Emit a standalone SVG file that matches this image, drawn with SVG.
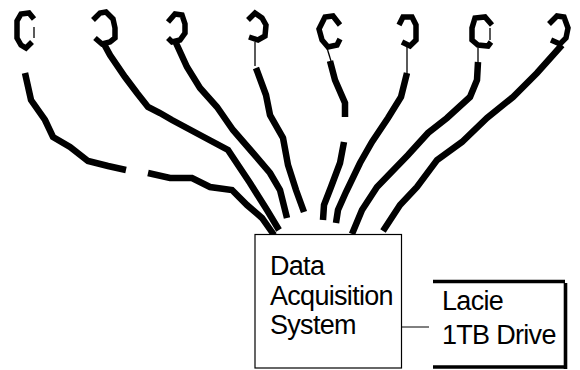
<svg xmlns="http://www.w3.org/2000/svg" width="580" height="370" viewBox="0 0 580 370">
<style>
.sensor{fill:none;stroke:#000;stroke-width:5.5;stroke-linejoin:miter;stroke-linecap:butt}
.thin{fill:none;stroke:#000;stroke-width:1.3}
.cable{fill:none;stroke:#000;stroke-width:6.5;stroke-linejoin:miter;stroke-linecap:butt}
.box{fill:#fff;stroke:#000;stroke-width:1.2}
.heavy{fill:none;stroke:#000;stroke-width:3.6}
.lbl{font-family:"Liberation Sans",Arial,sans-serif;font-size:27px;fill:#000;letter-spacing:-0.7px}
</style>
<rect width="580" height="370" fill="#fff"/>
<g id="connectors">
<polyline class="cable" points="25,73 31,100 45,120 53,137 70,147 88,161 108,166 126,170"/>
<polyline class="cable" points="148,173 170,178 192,178 210,187 232,190 247,205 262,218 274,235"/>
<polyline class="cable" points="104,44 110,55 125,77 137,93 148,107 160,113 172,120 200,135 228,150 236,162 250,183 267,210 279,230"/>
<polyline class="cable" points="176,43 187,67 200,88 217,107 233,130 253,153 270,173 280,190 287,218"/>
<line class="thin" x1="255" y1="42" x2="255" y2="66"/>
<polyline class="cable" points="256,68 266,95 270,115 283,138 288,165 296,190 304,212"/>
<line class="thin" x1="327" y1="48" x2="331" y2="61"/>
<polyline class="cable" points="330,61 335,80 345,103 345,117"/>
<polyline class="cable" points="344,142 340,163 331,187 324,205 323,220"/>
<line class="thin" x1="407" y1="47" x2="407" y2="74"/>
<polyline class="cable" points="407,73 401,97 388,118 372,142 360,163 346,192 338,210 336,223"/>
<line class="thin" x1="478" y1="48" x2="478" y2="62"/>
<polyline class="cable" points="478,62 477,80 470,97 447,118 428,133 408,155 377,187 362,210 352,234"/>
<polyline class="cable" points="562,45 537,73 513,97 487,118 462,142 437,160 417,187 400,205 383,231"/>
<line x1="402" y1="327" x2="429" y2="327" stroke="#000" stroke-width="1"/>
</g>
<g id="sensor1"><path class="sensor" d="M34,19 L29,13 L21,14 L17,21 L17,38 L21,45 L26,48 L32,42"/><line class="thin" x1="34" y1="27" x2="34" y2="38"/></g>
<g id="sensor2"><path class="sensor" d="M93,20 L100,13 L106,12 L113,19 L115,28 L115,38 L110,42 L102,44 L95,38"/></g>
<g id="sensor3"><path class="sensor" d="M168,22 L175,14 L182,15 L185,24 L185,33 L180,40 L172,42 L168,38"/></g>
<g id="sensor4"><path class="sensor" d="M248,20 L255,13 L262,18 L266,25 L265,36 L258,40 L249,37"/></g>
<g id="sensor5"><path class="sensor" d="M340,25 L333,16 L325,17 L319,29 L322,40 L328,47 L337,45 L340,39"/></g>
<g id="sensor6"><path class="sensor" d="M399,25 L403,17 L412,17 L416,25 L416,40 L410,46 L402,42"/></g>
<g id="sensor7"><path class="sensor" d="M492,25 L485,17 L475,18 L472,28 L472,40 L478,45 L488,46 L491,42"/><line class="thin" x1="490" y1="28" x2="490" y2="40"/></g>
<g id="sensor8"><path class="sensor" d="M549,24 L557,16 L564,17 L568,28 L566,38 L560,44 L551,40"/></g>
<g id="das">
<rect class="box" x="255" y="234.5" width="146.5" height="133.5"/>
<text class="lbl" x="270" y="275">Data</text>
<text class="lbl" x="270" y="305">Acquisition</text>
<text class="lbl" x="270" y="334">System</text>
</g>
<g id="lacie">
<line class="heavy" x1="433" y1="281.5" x2="565" y2="281.5"/>
<line class="heavy" x1="565.5" y1="283" x2="565.5" y2="369"/>
<line class="heavy" x1="433" y1="367" x2="567" y2="367"/>
<text class="lbl" x="442" y="310">Lacie</text>
<text class="lbl" x="442" y="344">1TB Drive</text>
</g>
</svg>
